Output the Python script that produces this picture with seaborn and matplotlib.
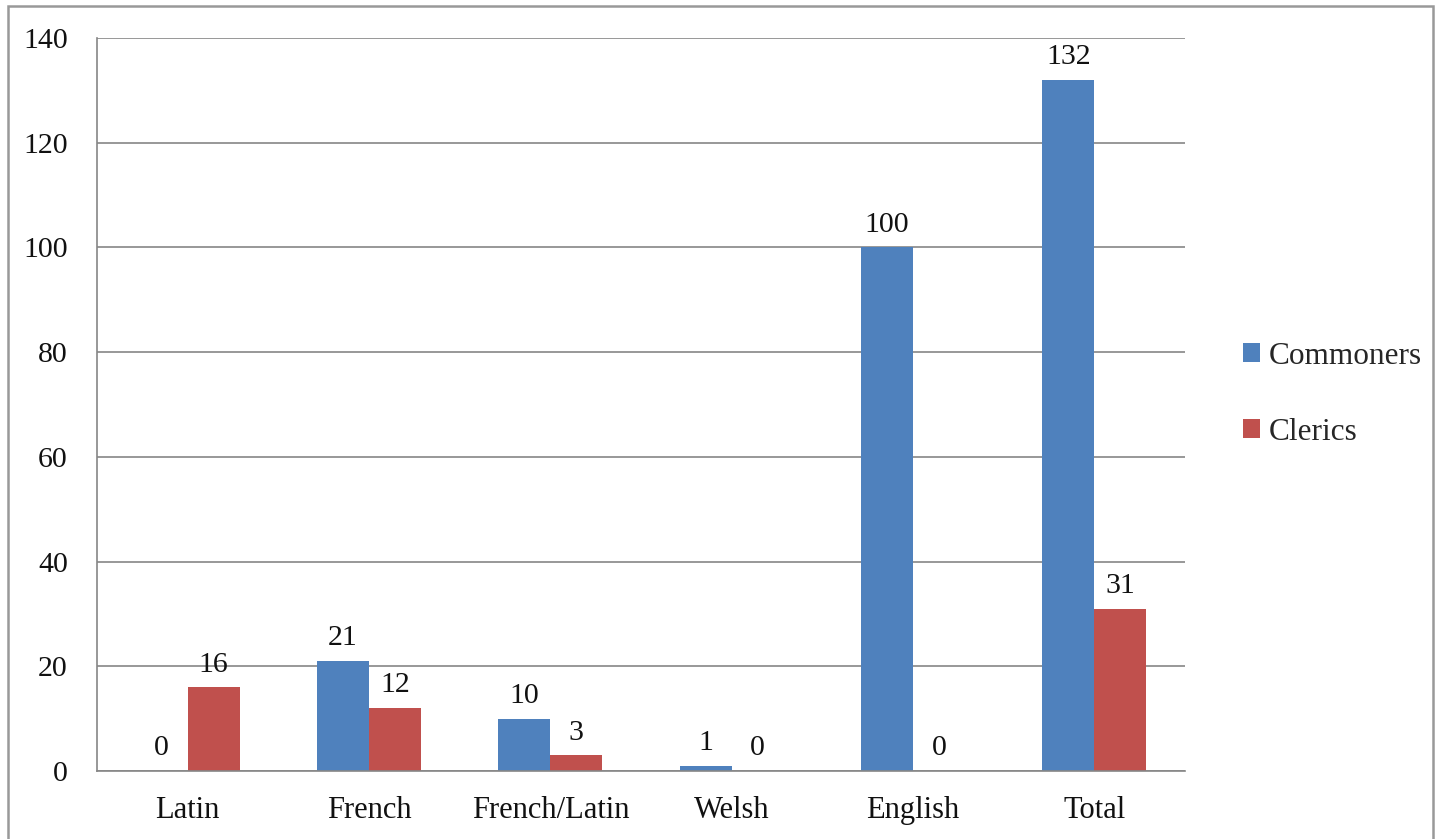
import matplotlib
matplotlib.use("Agg")
import matplotlib.pyplot as plt
from matplotlib.patches import Rectangle
import seaborn as sns
import pandas as pd

languages = ["Latin", "French", "French/Latin", "Welsh", "English", "Total"]
commoners = [0, 21, 10, 1, 100, 132]
clerics = [16, 12, 3, 0, 0, 31]
groups = ["Commoners", "Clerics"]
colors = {"Commoners": "#4F81BD", "Clerics": "#C0504D"}

df = pd.DataFrame({
    "language": languages * 2,
    "group": ["Commoners"] * len(languages) + ["Clerics"] * len(languages),
    "count": commoners + clerics,
})

sns.set_style("white")
plt.rcParams["font.family"] = ["Liberation Serif", "DejaVu Serif"]

fig = plt.figure(figsize=(14.37, 8.39), dpi=100)
ax = fig.add_axes([97 / 1437, 1 - 771 / 839, (1185 - 97) / 1437, (771 - 38) / 839])

sns.barplot(data=df, x="language", y="count", hue="group", hue_order=groups,
            order=languages, palette=colors, saturation=1, width=0.574, gap=0,
            linewidth=0, edgecolor="none", ax=ax, legend=True)

grey = "#868686"
for c in ax.containers:
    ax.bar_label(c, padding=7, fontsize=21.5, color="#111111")

ax.set_ylim(0, 140)
ax.set_xlim(-0.5, len(languages) - 0.5)
ax.set_yticks(range(0, 141, 20))
ax.yaxis.grid(True, color=grey, linewidth=1.2)
ax.set_axisbelow(True)
ax.set_xlabel("")
ax.set_ylabel("")

ax.set_xticks([i - 0.5 for i in range(len(languages) + 1)], minor=True)
ax.tick_params(axis="x", which="major", length=0, labelsize=22, pad=18, colors="#111111")
ax.tick_params(axis="x", which="minor", length=10, width=1.2, color=grey, direction="out")
ax.tick_params(axis="y", length=8, width=1.2, color=grey, direction="out",
               labelsize=21.5, pad=13, labelcolor="#111111")
for s in ["top", "right"]:
    ax.spines[s].set_visible(False)
for s in ["left", "bottom"]:
    ax.spines[s].set_color(grey)
    ax.spines[s].set_linewidth(1.2)

leg = ax.legend(loc="center left", bbox_to_anchor=(1.027, 0.514), frameon=False,
                fontsize=22.5, handlelength=0.55, handleheight=0.55, handletextpad=0.3,
                labelspacing=1.5)

fig.patches.append(Rectangle((8 / 1437, -0.02), (1433 - 8) / 1437, 1.02 - 6 / 839,
                             transform=fig.transFigure, fill=False,
                             edgecolor="#999999", linewidth=1.8))

fig.savefig("out.png", dpi=100)
